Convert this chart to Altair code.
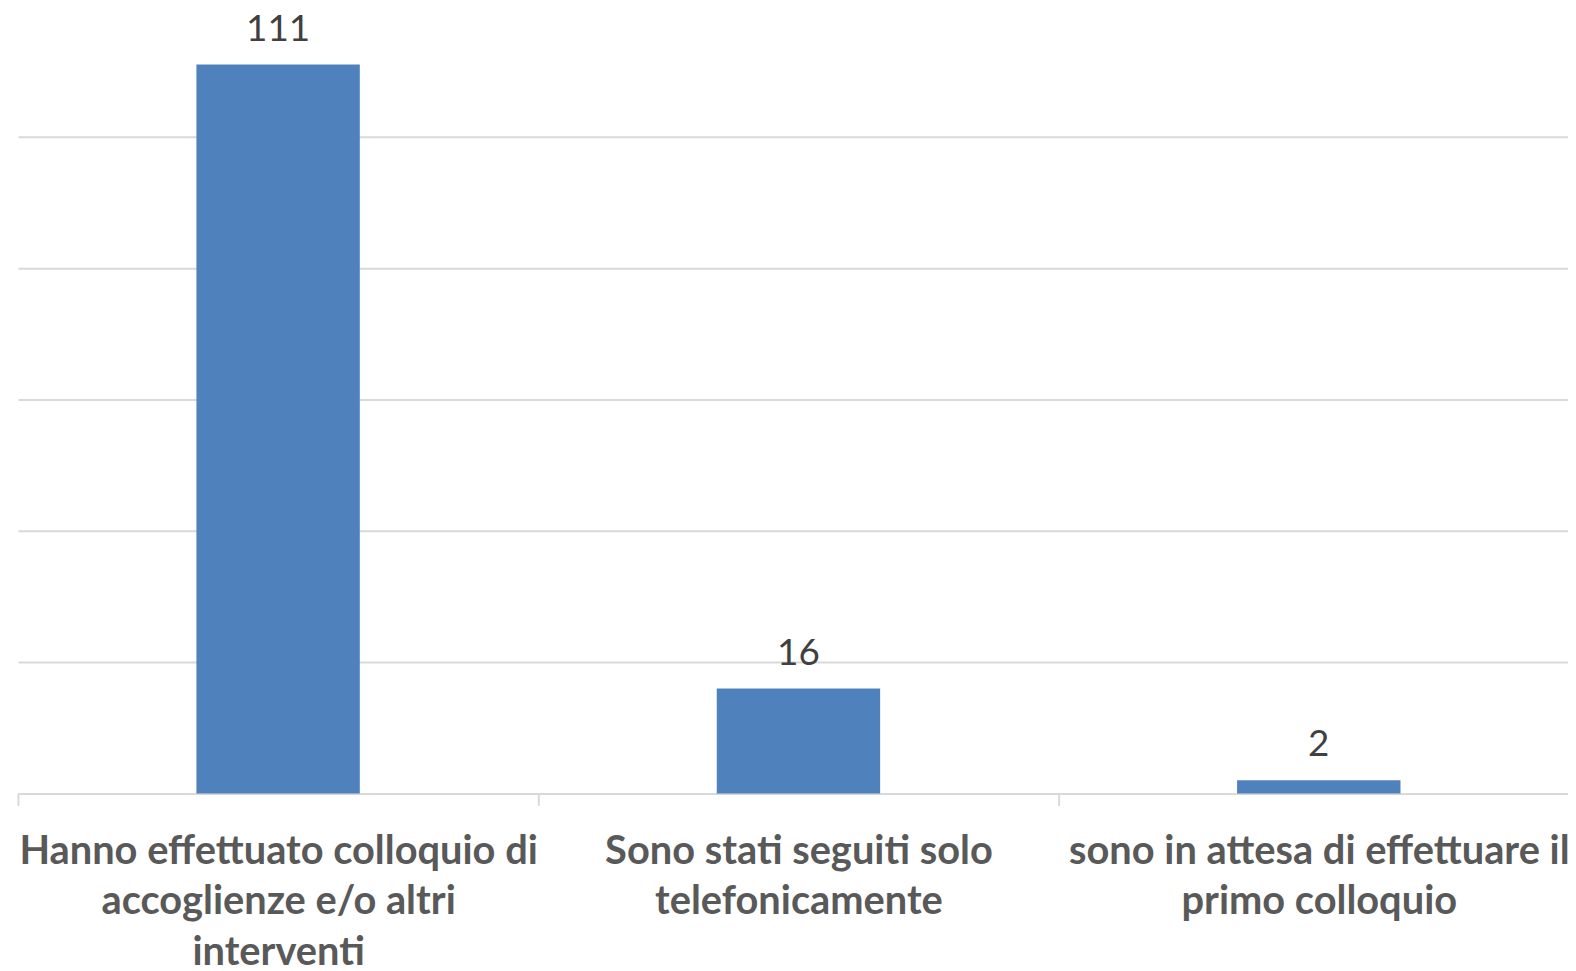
import altair as alt
import pandas as pd

categories = [
    "Hanno effettuato colloquio di|accoglienze e/o altri|interventi",
    "Sono stati seguiti solo|telefonicamente",
    "sono in attesa di effettuare il|primo colloquio",
]
values = [111, 16, 2]

df = pd.DataFrame({"cat": categories, "val": values})

x = alt.X(
    "cat:N",
    sort=None,
    title=None,
    scale=alt.Scale(paddingInner=0, paddingOuter=0),
    axis=alt.Axis(
        labelAngle=0,
        labelExpr="split(datum.label, '|')",
        labelFont="Lato",
        labelFontWeight="bold",
        labelFontSize=40,
        labelColor="#595959",
        labelLineHeight=51,
        labelPadding=26,
        labelLimit=0,
        domainColor="#d9d9d9",
        domainWidth=2,
        tickColor="#d9d9d9",
        tickWidth=2,
        tickSize=12,
        tickBand="extent",
        grid=False,
    ),
)
y = alt.Y(
    "val:Q",
    title=None,
    scale=alt.Scale(domain=[0, 120], nice=False),
    axis=alt.Axis(
        values=[0, 20, 40, 60, 80, 100, 120],
        labels=False,
        ticks=False,
        domain=False,
        grid=True,
        gridColor="#d9d9d9",
        gridWidth=2,
    ),
)

bars = alt.Chart(df).mark_bar(color="#4f81bd", width=alt.RelativeBandSize(0.314)).encode(x=x, y=y)
text = alt.Chart(df).mark_text(
    font="Lato", fontSize=37, color="#404040", baseline="bottom", dy=-16
).encode(x=x, y=y, text="val:Q")

chart = (
    alt.layer(bars, text)
    .properties(
        width=1569,
        height=792,
        autosize=alt.AutoSizeParams(type="none"),
        padding={"left": 10, "top": -5, "right": -11, "bottom": 176},
        background="white",
    )
    .configure_view(stroke=None)
)

chart.save("out.html", embed_options={"renderer": "svg", "actions": False})
